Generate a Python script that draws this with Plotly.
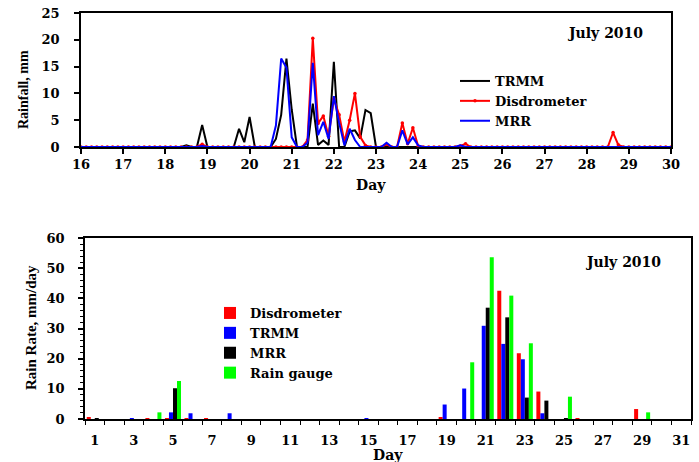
import plotly.graph_objects as go

# ---------------- Top panel: 3-hourly rainfall, 16-30 July 2010 ----------------
time_start_day = 16
steps_per_day = 8
n_points = 113
times = [time_start_day + i / steps_per_day for i in range(n_points)]

trmm_3h = [
    0, 0, 0, 0, 0, 0, 0, 0,            # 16
    0, 0, 0, 0, 0, 0, 0, 0,            # 17
    0, 0, 0, 0, 0.3, 0, 0, 4.1,        # 18
    0, 0, 0, 0, 0, 0, 3.4, 0.9,        # 19
    5.6, 0, 0, 0, 0, 1.5, 6.0, 16.5,   # 20
    7.0, 0, 0, 0, 8.1, 0.4, 1.2, 0.4,  # 21
    15.9, 0, 0, 2.9, 3.1, 1.6, 6.9, 6.3,  # 22
    0, 0, 0, 0, 0, 0, 0, 0,            # 23
    0, 0, 0, 0, 0, 0, 0, 0,            # 24
    0, 0, 0, 0, 0, 0, 0, 0,            # 25
    0, 0, 0, 0, 0, 0, 0, 0,            # 26
    0, 0, 0, 0, 0, 0, 0, 0,            # 27
    0, 0, 0, 0, 0, 0, 0, 0,            # 28
    0, 0, 0, 0, 0, 0, 0, 0,            # 29
    0,                                  # 30
]
disdrometer_3h = [
    0, 0, 0, 0, 0, 0, 0, 0,            # 16
    0, 0, 0, 0, 0, 0, 0, 0,            # 17
    0, 0, 0, 0, 0, 0, 0, 0.5,          # 18
    0, 0, 0, 0, 0, 0, 0, 0,            # 19
    0, 0, 0, 0, 0, 0, 0, 0,            # 20
    0, 0, 0, 1.3, 20.3, 4.4, 5.8, 2.0, # 21
    9.0, 6.0, 1.0, 5.0, 10.0, 1.9, 0.3, 0,  # 22
    0, 0, 0.5, 0, 0, 4.5, 0.6, 3.6,    # 23
    0.2, 0, 0, 0, 0, 0, 0, 0,          # 24
    0.2, 0.6, 0, 0, 0, 0, 0, 0,        # 25
    0, 0, 0, 0, 0, 0, 0, 0,            # 26
    0, 0, 0, 0, 0, 0, 0, 0,            # 27
    0, 0, 0, 0, 0, 2.7, 0.4, 0,        # 28
    0, 0, 0, 0, 0, 0, 0, 0,            # 29
    0,                                  # 30
]
mrr_3h = [
    0, 0, 0, 0, 0, 0, 0, 0,            # 16
    0, 0, 0, 0, 0, 0, 0, 0,            # 17
    0, 0, 0, 0, 0, 0, 0, 0.2,          # 18
    0, 0, 0, 0, 0, 0, 0, 0,            # 19
    0, 0, 0, 0, 0, 4.0, 16.5, 14.8,    # 20
    1.8, 0, 0, 0.8, 15.7, 2.2, 4.7, 1.5,  # 21
    9.5, 4.5, 0.3, 3.4, 1.3, 0, 0, 0,  # 22
    0, 0, 0.8, 0, 0, 3.1, 0.5, 1.8,    # 23
    0.3, 0, 0, 0, 0, 0, 0, 0,          # 24
    0.3, 0, 0, 0, 0, 0, 0, 0,          # 25
    0, 0, 0, 0, 0, 0, 0, 0,            # 26
    0, 0, 0, 0, 0, 0, 0, 0,            # 27
    0, 0, 0, 0, 0, 0, 0, 0,            # 28
    0, 0, 0, 0, 0, 0, 0, 0,            # 29
    0,                                  # 30
]
top_xticks = list(range(16, 31))
top_yticks = [0, 5, 10, 15, 20, 25]

# ---------------- Bottom panel: daily rain rate, July 2010 ----------------
days = list(range(1, 32))
disdrometer_daily = [0.5, 0, 0, 0.3, 0.3, 0.3, 0.3, 0, 0, 0,
                     0, 0, 0, 0, 0, 0, 0, 0, 0.5, 0,
                     0, 42.5, 21.8, 9.1, 0, 0.3, 0, 0, 3.3, 0, 0]
trmm_daily = [0, 0, 0.2, 0, 2.2, 1.9, 0, 1.9, 0, 0,
              0, 0, 0, 0, 0.2, 0, 0, 0, 4.8, 10.1,
              30.9, 24.9, 19.8, 1.9, 0, 0, 0, 0, 0, 0, 0]
mrr_daily = [0.3, 0, 0, 0, 10.2, 0, 0, 0, 0, 0,
             0, 0, 0, 0, 0, 0, 0, 0, 0, 0,
             36.9, 33.7, 7.1, 6.1, 0.2, 0, 0, 0, 0, 0, 0]
raingauge_daily = [0, 0, 0, 2.2, 12.6, 0, 0, 0, 0, 0,
                   0, 0, 0, 0, 0, 0, 0, 0, 0, 18.8,
                   53.6, 40.9, 25.1, 0, 7.4, 0, 0, 0, 2.2, 0, 0]
bottom_xticks = list(range(1, 32, 2))
bottom_yticks = [0, 10, 20, 30, 40, 50, 60]

FONT = "DejaVu Serif"
TITLE_FONT = "Liberation Serif"
W, H = 699, 462

def px_x(p):
    return p / W

def px_y(p):
    return 1 - p / H

fig = go.Figure()

# top lines
fig.add_trace(go.Scatter(x=times, y=trmm_3h, name="TRMM", mode="lines",
                         line=dict(color="black", width=2),
                         xaxis="x", yaxis="y", legend="legend"))
fig.add_trace(go.Scatter(x=times, y=disdrometer_3h, name="Disdrometer", mode="lines+markers",
                         line=dict(color="#ff0000", width=2), marker=dict(size=3.5, color="#ff0000"),
                         xaxis="x", yaxis="y", legend="legend"))
fig.add_trace(go.Scatter(x=times, y=mrr_3h, name="MRR", mode="lines",
                         line=dict(color="#0000ff", width=2),
                         xaxis="x", yaxis="y", legend="legend"))

# bottom bars
bar_specs = [("Disdrometer", disdrometer_daily, "#ff0000"),
             ("TRMM", trmm_daily, "#0000ff"),
             ("MRR", mrr_daily, "#000000"),
             ("Rain gauge", raingauge_daily, "#00ff00")]
for name, vals, col in bar_specs:
    fig.add_trace(go.Bar(x=days, y=vals, name=name, marker=dict(color=col, line=dict(width=0)),
                         xaxis="x2", yaxis="y2", legend="legend2"))

tickfont = dict(family=FONT, size=13, color="black", weight="bold")
legfont = dict(family=FONT, size=13, color="black", weight="bold")

fig.update_layout(
    width=W, height=H,
    margin=dict(l=0, r=0, t=0, b=0),
    paper_bgcolor="white", plot_bgcolor="white",
    barmode="group", bargap=0.18, bargroupgap=0,
    showlegend=True, hovermode=False,
    xaxis=dict(domain=[px_x(81), px_x(671)], range=[16, 30], tickvals=top_xticks,
               ticks="outside", ticklen=5, tickwidth=1.5, tickcolor="black",
               ticklabeloverflow="allow",
               showline=True, linecolor="black", linewidth=1.5, mirror=True,
               showgrid=False, zeroline=False, tickfont=tickfont, anchor="y",
               automargin=False),
    yaxis=dict(domain=[px_y(147), px_y(13)], range=[0, 25], tickvals=top_yticks,
               ticks="outside", ticklen=5, tickwidth=1.5, tickcolor="black",
               ticklabelstandoff=12, ticklabeloverflow="allow",
               showline=True, linecolor="black", linewidth=1.5, mirror=True,
               showgrid=False, zeroline=False, tickfont=tickfont, anchor="x",
               automargin=False),
    xaxis2=dict(domain=[px_x(85), px_x(691)], range=[0.5, 31.5], tickvals=bottom_xticks,
                ticks="", ticklabelstandoff=9, ticklabeloverflow="allow",
                showline=True, linecolor="black", linewidth=1.5, mirror=True,
                minor=dict(tickmode="array", tickvals=[d + 0.5 for d in [0] + days],
                           ticks="outside", ticklen=4, tickcolor="black", tickwidth=1),
                showgrid=False, zeroline=False, tickfont=tickfont, anchor="y2",
                automargin=False),
    yaxis2=dict(domain=[px_y(419), px_y(238)], range=[0, 60], tickvals=bottom_yticks,
                ticks="outside", ticklen=5, tickwidth=1.5, tickcolor="black",
                ticklabelstandoff=11, ticklabeloverflow="allow",
                minor=dict(dtick=2, ticks="outside", ticklen=3, tickcolor="black", tickwidth=1),
                showline=True, linecolor="black", linewidth=1.5, mirror=True,
                showgrid=False, zeroline=False, tickfont=tickfont, anchor="x2",
                automargin=False),
    legend=dict(x=px_x(455), y=px_y(66), xanchor="left", yanchor="top",
                bgcolor="rgba(0,0,0,0)", font=legfont, tracegroupgap=0,
                traceorder="normal", itemwidth=30),
    legend2=dict(x=px_x(210), y=px_y(298), xanchor="left", yanchor="top",
                 bgcolor="rgba(0,0,0,0)", font=legfont, tracegroupgap=0,
                 traceorder="normal", itemwidth=30),
)

def add_text(txt, x, y, size=15, angle=0, family=FONT):
    fig.add_annotation(text=txt, x=px_x(x), y=px_y(y), xref="paper", yref="paper",
                       xanchor="center", yanchor="middle", showarrow=False,
                       textangle=angle,
                       font=dict(family=family, size=size, color="black", weight="bold"))

add_text("July 2010", 605, 33, size=14)
add_text("July 2010", 623, 262, size=14)
add_text("Rainfall, mm", 24, 90, size=14, angle=-90, family=TITLE_FONT)
add_text("Rain Rate, mm/day", 31, 328, size=15, angle=-90, family=TITLE_FONT)
add_text("Day", 371, 185, size=14)
add_text("Day", 388, 455, size=14)

fig.write_html("out.html",
               config={"displayModeBar": False},
               post_script="document.body.style.margin='0';document.body.style.overflow='hidden';")
